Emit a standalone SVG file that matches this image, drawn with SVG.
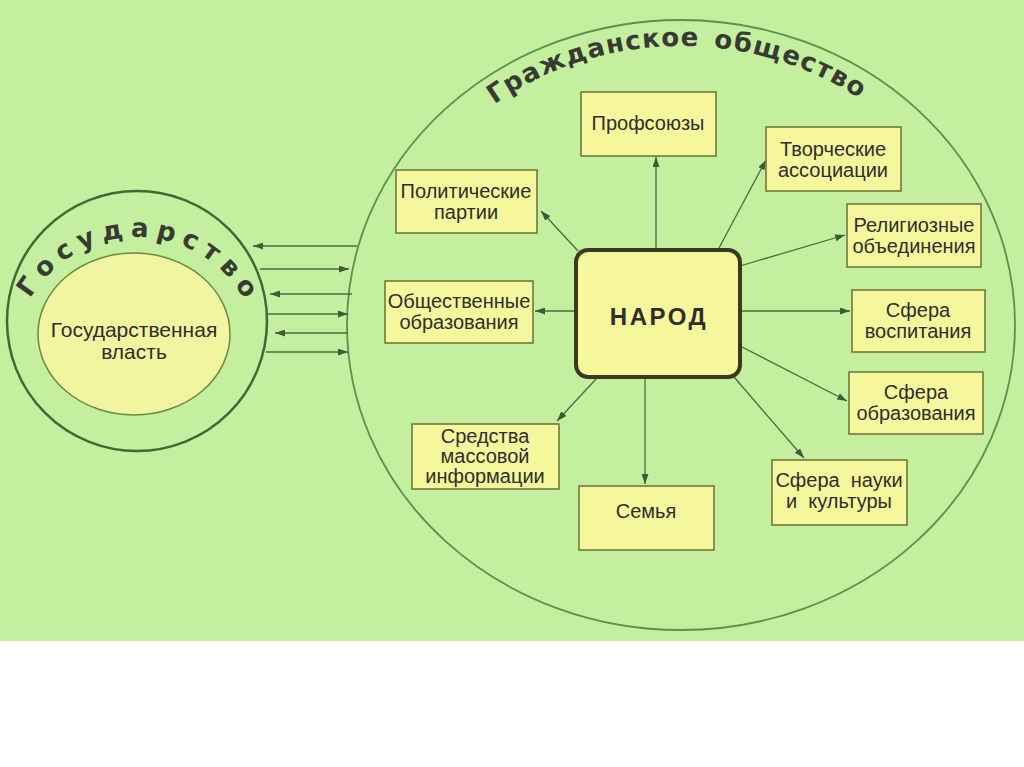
<svg xmlns="http://www.w3.org/2000/svg" width="1024" height="767" viewBox="0 0 1024 767">
<defs>
<style>
.box{fill:#f6f79c;stroke:#707a3a;stroke-width:1.6}
.t{font-family:"Liberation Sans",Arial,sans-serif;font-size:20px;fill:#2e2e2a;text-anchor:middle}
.arc{font-family:"DejaVu Sans",sans-serif;font-weight:bold;font-size:26px;fill:#3a3a35}
.c{stroke:#4a6a42;stroke-width:1.3;fill:none;marker-end:url(#ah)}
</style>
<marker id="ah" viewBox="0 0 10 7" refX="10" refY="3.5" markerUnits="userSpaceOnUse" markerWidth="10" markerHeight="7" orient="auto">
<path d="M0,0 L10,3.5 L0,7 z" fill="#3f5a38"/>
</marker>
<path id="arcSoc" d="M 376 325 A 305 279 0 0 1 986 325"/>
<path id="arcGos" d="M 14 360 A 123 123 0 0 1 260 360"/>
</defs>
<rect x="0" y="0" width="1024" height="641" fill="#c3ef9f"/>
<rect x="0" y="641" width="1024" height="126" fill="#ffffff"/>

<g id="society">
<ellipse cx="681" cy="325" rx="334" ry="305" fill="none" stroke="#5d8f4e" stroke-width="1.8"/>
<text class="arc" letter-spacing="1.2" word-spacing="4"><textPath href="#arcSoc" startOffset="49.5%" text-anchor="middle">Гражданское общество</textPath></text>
</g>

<g id="state">
<circle cx="137" cy="321" r="130" fill="none" stroke="#3f6a38" stroke-width="2.5"/>
<text class="arc" letter-spacing="7"><textPath href="#arcGos" startOffset="51%" text-anchor="middle">Государство</textPath></text>
</g>

<g id="power">
<ellipse cx="134" cy="334" rx="96" ry="81" fill="#f2f5a0" stroke="#6b8a40" stroke-width="1.5"/>
<text class="t" x="134" y="337" style="font-size:21px">Государственная</text>
<text class="t" x="134" y="359" style="font-size:21px">власть</text>
</g>

<g id="connectors">
<line class="c" x1="357" y1="246" x2="253" y2="246"/>
<line class="c" x1="260" y1="269" x2="349" y2="269"/>
<line class="c" x1="352" y1="294" x2="270" y2="294"/>
<line class="c" x1="266" y1="314" x2="348" y2="314"/>
<line class="c" x1="348" y1="333" x2="275" y2="333"/>
<line class="c" x1="266" y1="352" x2="348" y2="352"/>

<line class="c" x1="656" y1="250" x2="656" y2="157"/>
<line class="c" x1="719" y1="248" x2="766" y2="160"/>
<line class="c" x1="578" y1="251" x2="541" y2="211"/>
<line class="c" x1="740" y1="266" x2="845" y2="235"/>
<line class="c" x1="576" y1="311" x2="535" y2="311"/>
<line class="c" x1="740" y1="311" x2="850" y2="311"/>
<line class="c" x1="740" y1="346" x2="847" y2="401"/>
<line class="c" x1="734" y1="377" x2="804" y2="458"/>
<line class="c" x1="645" y1="378" x2="645" y2="484"/>
<line class="c" x1="597" y1="378" x2="557" y2="421"/>
</g>

<g id="narod">
<rect x="576" y="250" width="164" height="127" rx="12" fill="#f6f79c" stroke="#3a3a22" stroke-width="4"/>
<text class="t" x="659" y="325" style="font-size:24px;font-weight:bold" letter-spacing="2.5">НАРОД</text>
</g>

<g id="profsoyuzy">
<rect class="box" x="581" y="92" width="135" height="64"/>
<text class="t" x="648" y="130">Профсоюзы</text>
</g>
<g id="tvorcheskie">
<rect class="box" x="766" y="127" width="135" height="64"/>
<text class="t" x="833" y="156">Творческие</text>
<text class="t" x="833" y="177">ассоциации</text>
</g>
<g id="politicheskie">
<rect class="box" x="396" y="170" width="141" height="63"/>
<text class="t" x="466" y="198">Политические</text>
<text class="t" x="466" y="219">партии</text>
</g>
<g id="religioznye">
<rect class="box" x="847" y="204" width="134" height="63"/>
<text class="t" x="914" y="232">Религиозные</text>
<text class="t" x="914" y="253">объединения</text>
</g>
<g id="obshchestvennye">
<rect class="box" x="385" y="281" width="148" height="62"/>
<text class="t" x="459" y="308">Общественные</text>
<text class="t" x="459" y="329">образования</text>
</g>
<g id="vospitanie">
<rect class="box" x="852" y="290" width="133" height="62"/>
<text class="t" x="918" y="317">Сфера</text>
<text class="t" x="918" y="338">воспитания</text>
</g>
<g id="obrazovanie">
<rect class="box" x="849" y="372" width="134" height="62"/>
<text class="t" x="916" y="399">Сфера</text>
<text class="t" x="916" y="420">образования</text>
</g>
<g id="smi">
<rect class="box" x="412" y="424" width="147" height="65"/>
<text class="t" x="485" y="443">Средства</text>
<text class="t" x="485" y="463">массовой</text>
<text class="t" x="485" y="483">информации</text>
</g>
<g id="semya">
<rect class="box" x="579" y="486" width="135" height="64"/>
<text class="t" x="646" y="518">Семья</text>
</g>
<g id="nauka">
<rect class="box" x="772" y="460" width="135" height="65"/>
<text class="t" x="839" y="487">Сфера&#160; науки</text>
<text class="t" x="839" y="508">и&#160; культуры</text>
</g>
</svg>
